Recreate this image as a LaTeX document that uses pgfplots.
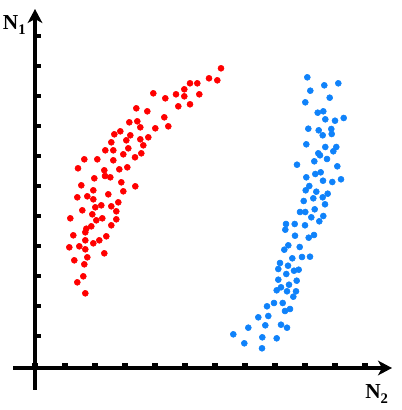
\documentclass[border=0pt]{standalone}
\usepackage{pgfplots}
\usepackage{pgfplotstable}
\pgfplotsset{compat=1.18}
\usepackage{fontspec}
\setmainfont{Liberation Serif}
\usetikzlibrary{arrows.meta}
\definecolor{dotred}{RGB}{255,0,0}
\definecolor{dotblue}{RGB}{15,130,250}

% data in pixels; 30 px = 1 unit
\pgfplotstableread{
px py
221 68.3
209 78.3
217.3 80.3
190 83.3
197.3 83.3
184.3 89.3
153.3 93.3
176 94.3
184.3 96.3
199.3 94.3
165.3 98.3
178.3 106.3
190 104.3
136.3 108.3
147.3 111.3
164.3 117.3
129.3 122.3
137.3 121.3
140.3 127.3
155.3 128.3
168.3 126.3
114.3 134.3
120.3 131.3
130.3 135.3
148.3 137.3
126.3 140.3
140.3 139.3
111.3 142.3
143.3 145.3
128.3 148.3
105.3 150.3
113.3 150.3
123.3 154.3
141.3 153.3
135 157.3
84.3 159.3
97.3 159.3
113.3 160.3
78 168.3
104.3 170.3
119.3 169.3
127.3 167.3
105 176
110.3 177.3
94.3 178.3
121.3 182.3
81.3 185.3
135.3 186.3
93.3 190.3
123.3 191.3
77.3 197.3
87.3 196.3
108.3 194.3
93.3 199.3
118.3 202.3
95.3 207.3
101.3 205.3
111.3 206.3
82.3 210.3
116.3 211.3
92.3 214.3
70.3 218.3
102.3 218.3
116.3 219.3
96.3 220.3
111.3 225.3
91.3 226.3
86.3 228.7
85.3 232.3
73.3 235.3
106.3 236.3
85.3 240.3
99.3 240.3
93.3 243.3
69.3 247.3
79.3 246.3
85.3 249.3
104.3 253.3
87.3 257.3
74.3 260.3
84.3 264.3
83.3 276.3
77.3 282.3
85.3 293.3
}\redpts

\pgfplotstableread{
px py
307.3 77.3
324.3 85.3
338.3 83.3
310.3 90.7
329.7 97.7
305.3 102.3
317.7 112.7
323.3 111.3
325.3 119.3
335 120.7
343.7 118
308.3 128.7
318.7 130.3
331.3 129
322.7 135.3
331.7 134
306.3 144.3
325.3 147
336.3 147
333.3 151.3
318.3 153.3
320 155.3
327 159
314.3 161.3
297 164.7
337.3 166.3
306.3 177.3
315.3 174
320.7 172.3
323 180.7
332.3 182
341 179.3
309.3 186
305.7 190.3
316.3 191.7
327.7 193.7
313.3 198.3
322.7 197.3
303.7 201
325 204.3
300 212
305.3 212
314.7 209.3
323.3 216
311.3 217.3
319.3 221.3
286 224
294.7 224
305 225.3
285.3 229.7
295 235.7
308.7 237.7
314 235
288.3 245.3
299.7 247
284.3 249.7
292.3 258.3
302 257
310 256.7
280 263
288 265.7
278.3 269
286.3 274
294 270.7
298.7 269.7
278.3 279.7
289 284.7
296.7 280.7
281 287.3
276.7 290.3
287 291.3
296 291.3
293.3 296.7
274 303
282.7 303
267 306.3
285 311
290 309
258.3 317.3
268.3 316
248.3 327.7
265.3 325.3
281 324.7
287 327.7
233.3 334.3
262.3 337.3
276.7 338.3
244.3 343.3
262 348.3
}\bluepts

\begin{document}
\begin{tikzpicture}
\begin{axis}[
    x=22.5pt, y=22.5pt,
    axis lines=middle,
    xmin=-0.733, xmax=11.9,
    ymin=-0.733, ymax=11.967,
    axis line style={line width=2.8pt, -{Stealth[length=10.5pt,width=11pt,inset=3pt]}},
    xtick=\empty,
    ytick={1.067,2.067,3.067,4.067,5.067,6.067,7.067,8.067,9.067,10.067,11.067},
    yticklabels={},
    ytick align=inside,
    major tick length=4.2pt,
    ytick style={line width=3.6pt, black},
    clip=false,
]
% square tick marks along the horizontal axis
\addplot[only marks, mark=square*, mark size=1.8pt, mark options={line width=0pt, fill=black, draw=black}]
    coordinates {(0,0.077) (1,0.077) (2,0.077) (3,0.077) (4,0.077) (5,0.077)
                 (6,0.077) (7,0.077) (8,0.077) (9,0.077) (10,0.077) (11,0.077)};
\addplot[only marks, mark=*, mark size=2.25pt, color=dotred]
    table[x expr={(\thisrow{px}-35)/30}, y expr={(368-\thisrow{py})/30}] {\redpts};
\addplot[only marks, mark=*, mark size=2.25pt, color=dotblue]
    table[x expr={(\thisrow{px}-35)/30}, y expr={(368-\thisrow{py})/30}] {\bluepts};
\node[anchor=base west, inner sep=0pt, font=\fontsize{16pt}{16pt}\selectfont\bfseries]
    at (axis cs:-1.077,11.29) {N\raisebox{-0.25em}{\fontsize{11pt}{11pt}\selectfont 1}};
\node[anchor=base west, inner sep=0pt, font=\fontsize{16pt}{16pt}\selectfont\bfseries]
    at (axis cs:11.0,-1.02) {N\raisebox{-0.25em}{\fontsize{11pt}{11pt}\selectfont 2}};
\path (axis cs:-1.1667,-1.4) rectangle (axis cs:12.2333,12.2667);
\end{axis}
\end{tikzpicture}
\end{document}
